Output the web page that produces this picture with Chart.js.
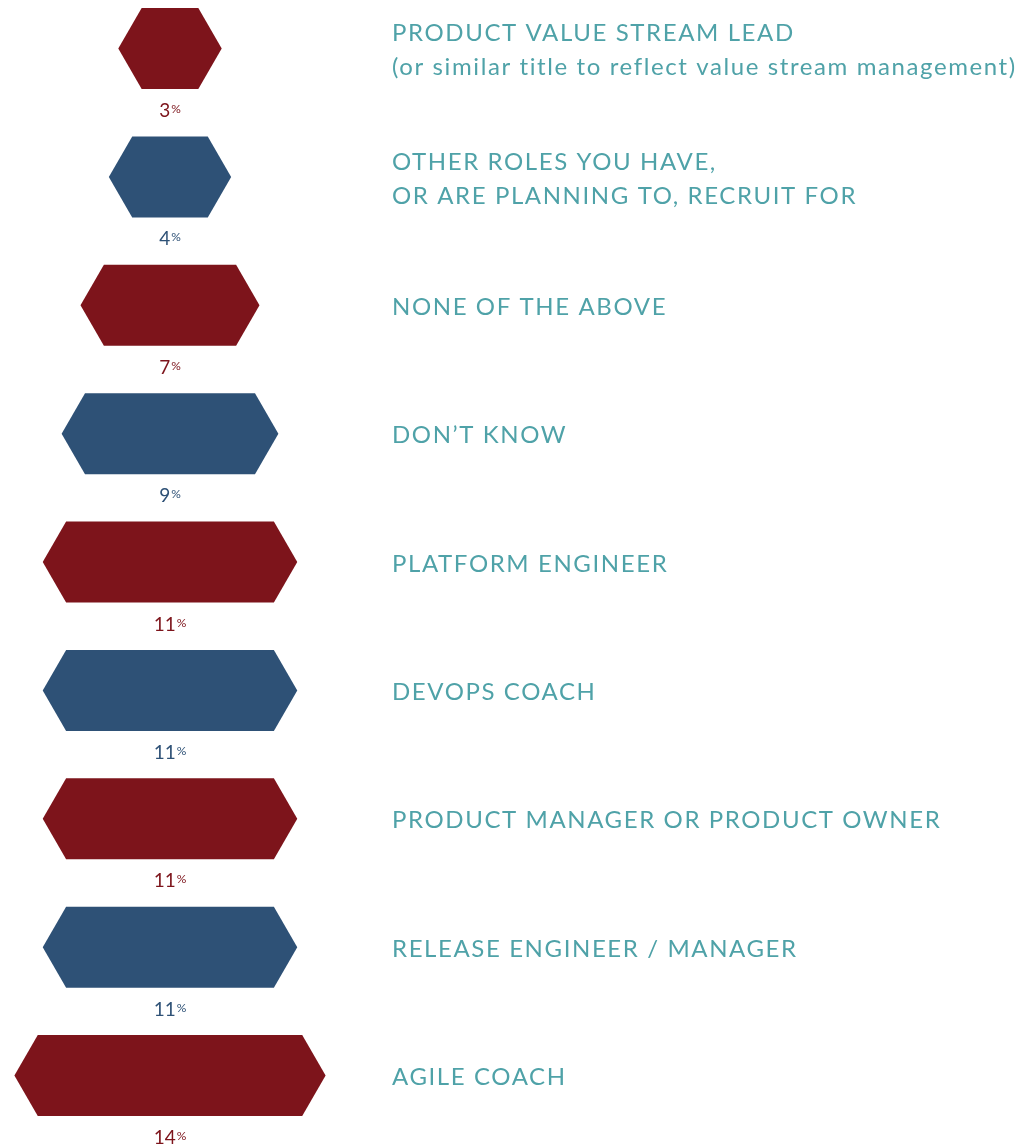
<!DOCTYPE html>
<html><head><meta charset="utf-8">
<script src="https://cdn.jsdelivr.net/npm/chart.js@4.4.1/dist/chart.umd.min.js"></script>
<style>html,body{margin:0;padding:0;background:#fff}#wrap{width:1034px;height:1146px;position:relative}</style>
</head><body><div id="wrap"><canvas id="c"></canvas></div>
<script>
const categories = [
  ["PRODUCT VALUE STREAM LEAD", "(or similar title to reflect value stream management)"],
  ["OTHER ROLES YOU HAVE,", "OR ARE PLANNING TO, RECRUIT FOR"],
  "NONE OF THE ABOVE",
  "DON’T KNOW",
  "PLATFORM ENGINEER",
  "DEVOPS COACH",
  "PRODUCT MANAGER OR PRODUCT OWNER",
  "RELEASE ENGINEER / MANAGER",
  "AGILE COACH"
];
const values = [3, 4, 7, 9, 11, 11, 11, 11, 14];
const barColors = ['#7d141b', '#2e5176', '#7d141b', '#2e5176', '#7d141b', '#2e5176', '#7d141b', '#2e5176', '#7d141b'];
const labelColor = '#4fa2a8';

const hexPlugin = {
  id: 'hex',
  beforeDraw(chart) {
    chart.ctx.letterSpacing = '1.6px';
  },
  afterDatasetsDraw(chart) {
    const ctx = chart.ctx;
    const meta = chart.getDatasetMeta(0);
    ctx.save();
    ctx.letterSpacing = '0px';
    meta.data.forEach((el, i) => {
      const h = el.height;
      const tip = h / 2 / Math.sqrt(3);
      const l = Math.min(el.x, el.base), r = Math.max(el.x, el.base), y = el.y;
      ctx.fillStyle = barColors[i];
      ctx.beginPath();
      ctx.moveTo(l - tip, y);
      ctx.lineTo(l, y - h / 2);
      ctx.lineTo(r, y - h / 2);
      ctx.lineTo(r + tip, y);
      ctx.lineTo(r, y + h / 2);
      ctx.lineTo(l, y + h / 2);
      ctx.closePath();
      ctx.fill();
      // percent label
      const num = String(values[i]);
      ctx.font = '19px Lato';
      const wn = ctx.measureText(num).width;
      ctx.font = '12px Lato';
      const wp = ctx.measureText('%').width;
      const cx = (l + r) / 2;
      const x0 = cx - (wn + 1 + wp) / 2;
      const by = y + 68.5;
      ctx.textBaseline = 'alphabetic';
      ctx.textAlign = 'left';
      ctx.fillStyle = barColors[i];
      ctx.font = '19px Lato';
      ctx.fillText(num, x0, by);
      ctx.font = '12px Lato';
      ctx.fillText('%', x0 + wn + 1, by - 4);
    });
    ctx.restore();
  }
};

new Chart(document.getElementById('c'), {
  type: 'bar',
  data: {
    labels: categories,
    datasets: [{
      data: values.map(v => [-v / 2, v / 2]),
      backgroundColor: 'rgba(0,0,0,0)',
      borderWidth: 0,
      barThickness: 81
    }]
  },
  options: {
    indexAxis: 'y',
    responsive: true,
    maintainAspectRatio: false,
    animation: false,
    layout: { padding: { top: 48.5, bottom: 70.5, left: 0, right: 0 } },
    plugins: { legend: { display: false }, tooltip: { enabled: false } },
    scales: {
      x: { type: 'linear', min: -9, max: 9, display: false },
      y: {
        position: 'right',
        offset: false,
        grid: { display: false },
        border: { display: false },
        afterFit(scale) {
          scale.width = 694;
          scale.paddingTop = 0;
          scale.paddingBottom = 0;
        },
        ticks: {
          color: labelColor,
          font: { family: 'Lato', size: 24, lineHeight: 1.42 },
          padding: 44,
          labelOffset: 2,
          crossAlign: 'near',
          autoSkip: false
        }
      }
    }
  },
  plugins: [hexPlugin]
});
</script>
</body></html>
